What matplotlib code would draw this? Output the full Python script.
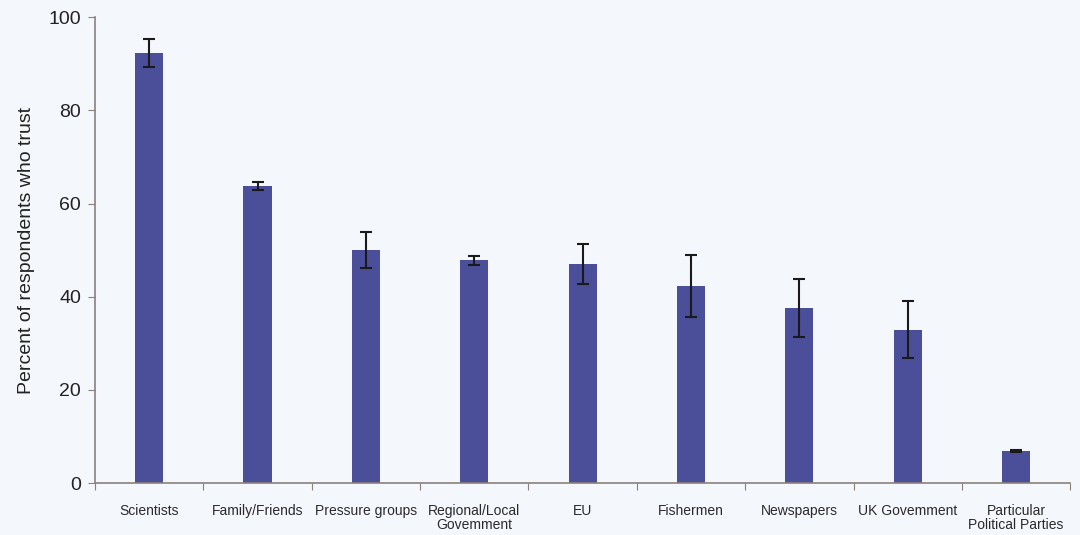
#! /usr/bin/env python3

import matplotlib

matplotlib.use("Agg")
import matplotlib.pyplot as plt
import numpy as np

categories = [
    "Scientists",
    "Family/Friends",
    "Pressure groups",
    "Regional/Local\nGovemment",
    "EU",
    "Fishermen",
    "Newspapers",
    "UK Govemment",
    "Particular\nPolitical Parties",
]
trust = [92.2, 63.8, 50.0, 47.8, 47.0, 42.3, 37.6, 32.9, 6.9]
err = [3.0, 0.8, 3.9, 1.0, 4.3, 6.7, 6.2, 6.1, 0.3]

plt.rcParams["font.family"] = ["Liberation Sans", "DejaVu Sans"]

bg = "#f4f7fb"
spine = "#8c807b"

fig = plt.figure(figsize=(10.8, 5.35), dpi=100, facecolor=bg)
ax = fig.add_axes([0.088, 0.097, 0.903, 0.871], facecolor=bg)

x = np.arange(len(categories))
ax.bar(x, trust, width=0.26, color="#4b4f9a", zorder=2)
ax.errorbar(
    x, trust, yerr=err, fmt="none", ecolor="#1a1a1a", elinewidth=1.5,
    capsize=4.5, capthick=1.5, zorder=3,
)

ax.set_xlim(-0.5, len(categories) - 0.5)
ax.set_ylim(0, 100)
ax.set_yticks([0, 20, 40, 60, 80, 100])
ax.set_xticks(np.arange(-0.5, len(categories), 1.0))
ax.set_xticklabels([])
ax.set_xticks(x, minor=True)
ax.set_xticklabels(categories, minor=True, fontsize=10, color="#2a2a2a",
                   linespacing=1.0)
ax.tick_params(axis="x", which="minor", length=0, pad=15)
ax.tick_params(axis="x", which="major", length=5, color=spine, direction="out")
ax.tick_params(axis="y", length=5, color=spine, labelsize=14, pad=5,
               labelcolor="#222222")

for s in ["top", "right"]:
    ax.spines[s].set_visible(False)
for s in ["left", "bottom"]:
    ax.spines[s].set_color(spine)
    ax.spines[s].set_linewidth(1.2)

ax.set_ylabel("Percent of respondents who trust", fontsize=14, color="#222222",
              labelpad=10)

plt.savefig("out.png", dpi=100, facecolor=bg)
